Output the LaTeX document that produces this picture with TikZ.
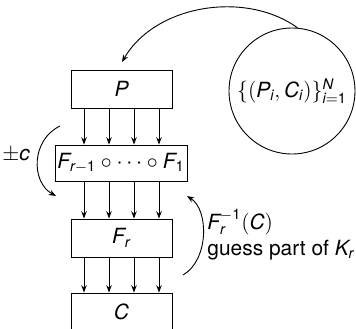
\documentclass[tikz,border=0pt]{standalone}
\usepackage{amsmath}
\usepackage{fontspec}
\setmainfont{TeX Gyre Heros}
\usetikzlibrary{arrows.meta}
\newcommand\vi[1]{\text{\itshape #1}}
\newcommand\vu[1]{\text{#1}}
\begin{document}
\begin{tikzpicture}[x=0.55pt,y=-0.55pt,line width=0.5pt,
  every node/.style={font=\fontsize{11.5}{13}\selectfont},
  box/.style={draw, inner sep=0pt, minimum height=20.9pt},
  >={Stealth[length=4pt,width=3pt]}]
\useasboundingbox (0,0) rectangle (356,328);
\clip (0,0) rectangle (356,328);
\node[box, minimum width=55.5pt] (P) at (121.5,89) {$\vi{P}$};
\node[box, minimum width=72.6pt, minimum height=19.8pt] (F1) at (121,163) {$\vi{F}_{\vi{r}-\vu{1}}\circ\cdots\circ\vi{F}_{\vu{1}}$};
\node[box, minimum width=55.5pt] (Fr) at (121.5,238) {$\vi{F}_{\vi{r}}$};
\node[box, minimum width=55.5pt] (C) at (121.5,312) {$\vi{C}$};
\node[draw, circle, inner sep=0pt, minimum size=69.3pt] (S) at (292,91) {$\{(\vi{P}_{\vi{i}},\vi{C}_{\vi{i}})\}_{\vi{i}=\vu{1}}^{\vi{N}}$};
\foreach \dx in {-37.5,-12.5,12.5,37.5}{
  \draw[->] ([xshift=\dx*0.55pt]P.south) -- ([xshift=\dx*0.55pt]P.south |- F1.north);
  \draw[->] ([xshift=\dx*0.55pt]Fr.north |- F1.south) -- ([xshift=\dx*0.55pt]Fr.north);
  \draw[->] ([xshift=\dx*0.55pt]Fr.south) -- ([xshift=\dx*0.55pt]C.north);
}
\coordinate (ptop) at (122,62);
\draw[->] (S.85) .. controls (245,-10) and (155,5) .. (ptop);
\coordinate (la) at (60,126);
\coordinate (lb) at (56,196);
\draw[->] (la) .. controls (31,140) and (31,182) .. (lb);
\node (pm) at (16,155) {$\pm\vi{c}$};
\coordinate (ra) at (183,275);
\coordinate (rb) at (187,196);
\draw[->] (ra) .. controls (209,260) and (209,210) .. (rb);
\node[anchor=west, inner sep=0pt] (inv) at (207,222) {$\vi{F}_{\vi{r}}^{-\vu{1}}(\vi{C})$};
\node[anchor=west, inner sep=0pt] (gp) at (207,250) {guess part of $\vi{K}_{\vi{r}}$};
\end{tikzpicture}
\end{document}
